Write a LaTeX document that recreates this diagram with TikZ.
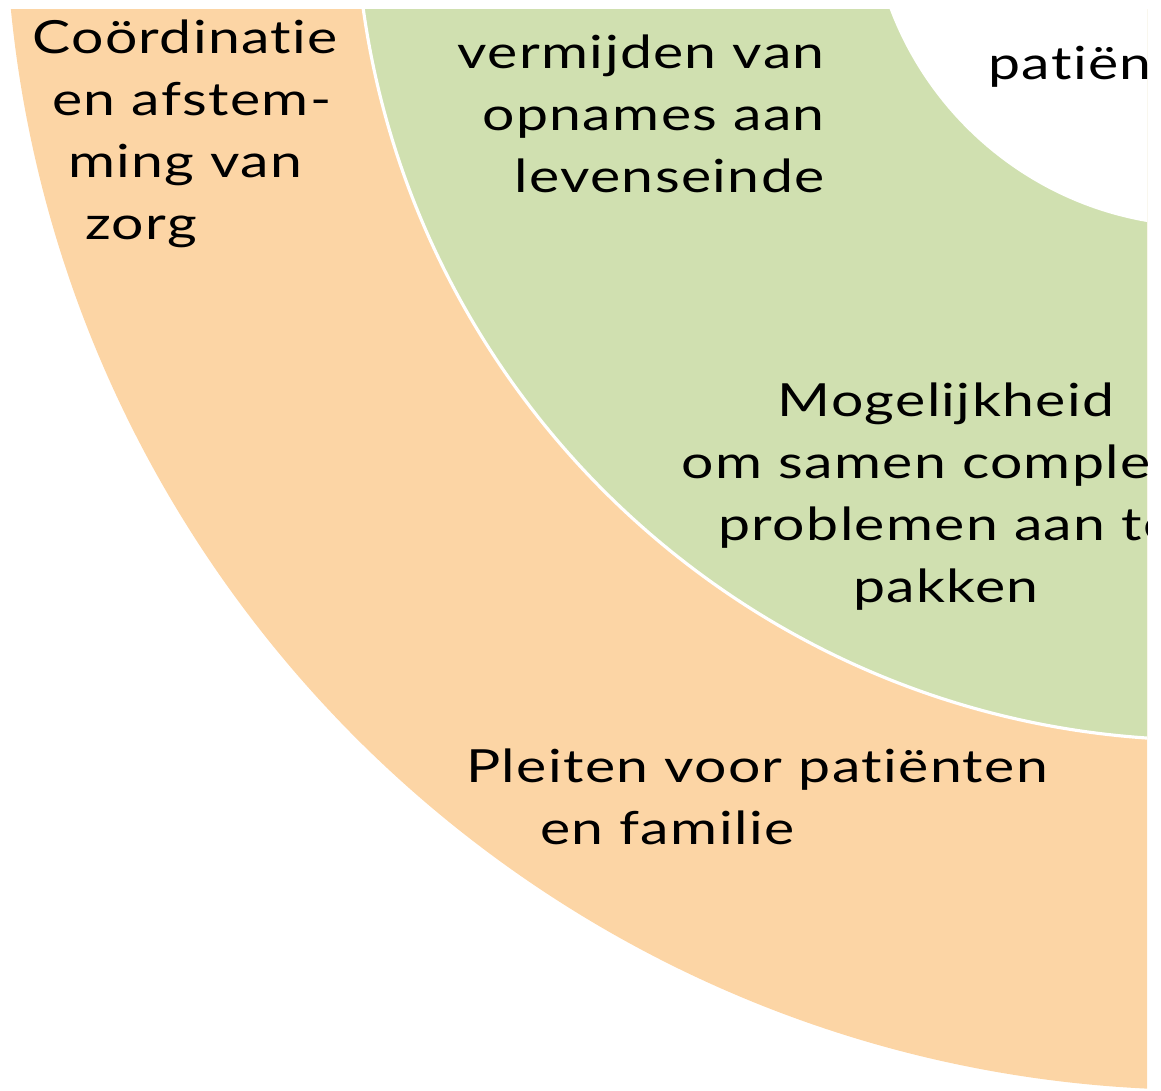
\documentclass[tikz,border=0pt]{standalone}
\usepackage{fontspec}
\setmainfont{Lato}[FakeStretch=1.25, LetterSpace=3, Ligatures=NoCommon]
\usepackage{xcolor}
\usepackage{tikz}
\definecolor{ringoranje}{HTML}{FCD5A5}
\definecolor{ringgroen}{HTML}{D0E0B0}

\begin{document}
\begin{tikzpicture}[
  font=\fontsize{26}{35.3}\selectfont,
  ring/.style={draw=white, line width=1.8pt},
  tekst/.style={inner sep=0pt, text=black}
]
\useasboundingbox (0,0) rectangle (23.22,21.8);
\coordinate (midden) at (24.1,24.0);

% ---------- Ringen (oranje, groen, wit) ----------
\begin{scope}
  \clip (0,0) rectangle (22.94,21.6);
  \fill[ringoranje] (midden) circle[radius=24];
  \draw[ring, fill=ringgroen] (midden) circle[radius=17];
  \fill[white] (midden) circle[radius=6.74];
\end{scope}

% ---------- Teksten (base = basislijn van de laatste regel) ----------
\begin{scope}
  \clip (0,0) rectangle (22.94,21.8);
  \node[tekst, anchor=base west, align=left] (coord) at (0.64,17.0)
    {Coördinatie\\ \hspace*{0.4cm}en afstem-\\ \hspace*{0.72cm}ming van\\ \hspace*{1.06cm}zorg};
  \node[tekst, anchor=base east, align=right] (opnames) at (16.5,17.94)
    {vermijden van\\ opnames aan\\ levenseinde};
  \node[tekst, anchor=base west] (patienten) at (19.76,20.2) {patiënten};
  \node[tekst, anchor=base, align=center] (samen) at (18.92,9.74)
    {Mogelijkheid\\ om samen complexe\\ problemen aan te\\ pakken};
  \node[tekst, anchor=base west, align=left] (pleiten) at (9.32,4.9)
    {Pleiten voor patiënten\\ \hspace*{1.48cm}en familie};
\end{scope}
\end{tikzpicture}
\end{document}
